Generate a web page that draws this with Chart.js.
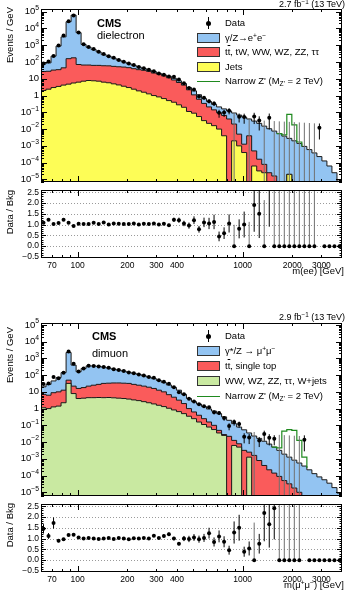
<!DOCTYPE html>
<html>
<head>
<meta charset="utf-8">
<title>CMS dilepton mass spectra</title>
<script src="https://cdn.jsdelivr.net/npm/chart.js@4.4.1/dist/chart.umd.min.js"></script>
<style>
  html, body { margin: 0; padding: 0; background: #fff; }
  #page { position: relative; width: 346px; height: 592px; overflow: hidden;
          font-family: "Liberation Sans", Arial, sans-serif; color: #000; }
  #page canvas { position: absolute; left: 0; }
  .ytitle { position: absolute; width: 120px; text-align: right; font-size: 9.5px; line-height: 1;
            transform-origin: 0 0; transform: rotate(-90deg); white-space: nowrap; }
  .xtitle { position: absolute; right: 2px; font-size: 9.5px; line-height: 1; white-space: nowrap; }
  .lumi { position: absolute; right: 1px; font-size: 9px; line-height: 1; white-space: nowrap; }
  .cms { position: absolute; font-size: 11px; font-weight: bold; line-height: 1; }
  .chan { position: absolute; font-size: 11px; line-height: 1; }
  .leg { position: absolute; left: 197px; width: 149px; font-size: 9.5px; }
  .row { position: absolute; left: 0; width: 149px; height: 10px; }
  .sw { position: absolute; left: 0; top: 0; width: 21px; height: 8px; border: 1px solid #333; }
  .mk { position: absolute; left: 11px; top: -1px; width: 1px; height: 12px; background: #000; }
  .mk::after { content: ''; position: absolute; left: -2px; top: 3.5px; width: 5px; height: 5px;
               border-radius: 50%; background: #000; }
  .zl { position: absolute; left: 0; top: 5px; width: 23px; height: 1px; background: #1f8a1f; }
  .lab { position: absolute; left: 28px; top: 0; line-height: 10px; white-space: nowrap; }
  sup { font-size: 70%; vertical-align: 0; position: relative; top: -0.45em; line-height: 0; }
  sub { font-size: 70%; vertical-align: 0; position: relative; top: 0.3em; line-height: 0; }
  .ov { text-decoration: overline; }
</style>
</head>
<body>
<div id="page">
  <canvas id="eeMain" width="346" height="186" style="top:0px"></canvas>
  <canvas id="eeRatio" width="346" height="100" style="top:186px"></canvas>
  <canvas id="mmMain" width="346" height="200" style="top:300px"></canvas>
  <canvas id="mmRatio" width="346" height="92" style="top:500px"></canvas>

  <!-- dielectron labels -->
  <div class="lumi" style="top:0px">2.7 fb<sup>−1</sup> (13 TeV)</div>
  <div class="cms" style="left:97px; top:18px">CMS</div>
  <div class="chan" style="left:97px; top:30px">dielectron</div>
  <div class="ytitle" style="left:5px; top:127px">Events / GeV</div>
  <div class="ytitle" style="left:5px; top:310px">Data / Bkg</div>
  <div class="xtitle" style="top:266px">m(ee) [GeV]</div>
  <div class="leg" style="top:0px">
    <div class="row" style="top:18px"><i class="mk"></i><span class="lab">Data</span></div>
    <div class="row" style="top:33px"><i class="sw" style="background:#93c4f2"></i><span class="lab">γ/Z→e<sup>+</sup>e<sup>−</sup></span></div>
    <div class="row" style="top:47px"><i class="sw" style="background:#fa5b5b"></i><span class="lab">t<span class="ov">t</span>, tW, WW, WZ, ZZ, ττ</span></div>
    <div class="row" style="top:62px"><i class="sw" style="background:#fdfd56"></i><span class="lab">Jets</span></div>
    <div class="row" style="top:76px"><i class="zl"></i><span class="lab">Narrow Z' (M<sub>Z'</sub> = 2 TeV)</span></div>
  </div>

  <!-- dimuon labels -->
  <div class="lumi" style="top:312.5px">2.9 fb<sup>−1</sup> (13 TeV)</div>
  <div class="cms" style="left:92px; top:331px">CMS</div>
  <div class="chan" style="left:92px; top:348px">dimuon</div>
  <div class="ytitle" style="left:5px; top:447px">Events / GeV</div>
  <div class="ytitle" style="left:5px; top:623px">Data / Bkg</div>
  <div class="xtitle" style="top:580px">m(μ<sup>+</sup>μ<sup>−</sup>) [GeV]</div>
  <div class="leg" style="top:0px">
    <div class="row" style="top:331px"><i class="mk"></i><span class="lab">Data</span></div>
    <div class="row" style="top:346px"><i class="sw" style="background:#93c4f2"></i><span class="lab">γ*/Z → μ<sup>+</sup>μ<sup>−</sup></span></div>
    <div class="row" style="top:361px"><i class="sw" style="background:#fa5b5b"></i><span class="lab">t<span class="ov">t</span>, single top</span></div>
    <div class="row" style="top:376px"><i class="sw" style="background:#c9e9a1"></i><span class="lab">WW, WZ, ZZ, ττ, W+jets</span></div>
    <div class="row" style="top:391px"><i class="zl"></i><span class="lab">Narrow Z' (M<sub>Z'</sub> = 2 TeV)</span></div>
  </div>
</div>

<script>
// bin edges in GeV (60 bins, 60 - 4000)
const massEdges = [60, 64.35, 69.02, 74.02, 79.38, 85.14, 91.31, 97.93, 105.0, 112.6,
  120.8, 129.6, 139.0, 149.0, 159.8, 171.4, 183.9, 197.2, 211.5, 226.8,
  243.3, 260.9, 279.8, 300.1, 321.8, 345.2, 370.2, 397.0, 425.8, 456.7,
  489.8, 525.3, 563.4, 604.2, 648.0, 695.0, 745.4, 799.4, 857.4, 919.6,
  986.2, 1058, 1134, 1217, 1305, 1400, 1501, 1610, 1727, 1852,
  1986, 2130, 2284, 2450, 2628, 2818, 3022, 3241, 3476, 3729, 4000];

const massTicks = [70, 100, 200, 300, 400, 1000, 2000, 3000];
const massMinor = [80, 90, 500, 600, 700, 800, 900];
const logDecades = [1e-5, 1e-4, 1e-3, 1e-2, 1e-1, 1, 10, 1e2, 1e3, 1e4, 1e5];
const ratioTicks = [-0.5, 0, 0.5, 1, 1.5, 2, 2.5];

// ---- dielectron (events / GeV), stacked tops ----
const eeBkgTotal = [76, 89, 224, 891, 3160, 25100, 63100, 5620, 1120, 759,
  550, 398, 275, 219, 170, 129, 100, 79, 63, 50,
  41, 33, 27, 21, 17, 14, 10.7, 7.6, 5.2, 3.0,
  1.9, 1.12, 0.66, 0.44, 0.30, 0.21, 0.16, 0.12, 0.091, 0.069,
  0.052, 0.040, 0.030, 0.022, 0.015, 0.0105, 0.0076, 0.0054, 0.0038, 0.0028,
  0.0020, 0.0014, 9.3e-4, 6.0e-4, 3.8e-4, 2.3e-4, 1.26e-4, 6.3e-5, 2.5e-5, 7.9e-6];
const eeNonDY = [27, 28, 33, 35, 45, 158, 178, 71, 66, 66,
  63, 63, 60, 59, 55, 52, 50, 46, 40, 35,
  32, 28, 22, 19, 15, 11.5, 8.5, 6.0, 4.2, 2.2,
  1.1, 0.6, 0.34, 0.21, 0.14, 0.095, 0.065, 0.040, 0.020, 0.0050,
  0.00126, 0.0040, 5.0e-4, 1.6e-4, 7.9e-5, 2.5e-5, 1.6e-5, 0, 0, 2.0e-5,
  0, 0, 0, 0, 0, 0, 0, 0, 0, 0];
const eeJets = [2.0, 2.4, 3.0, 3.5, 4.2, 4.8, 5.6, 6.3, 7.2, 7.9,
  7.6, 7.2, 6.3, 5.8, 5.0, 4.3, 3.6, 3.0, 2.4, 1.9,
  1.58, 1.26, 1.0, 0.83, 0.66, 0.50, 0.40, 0.28, 0.20, 0.112,
  0.089, 0.056, 0.032, 0.022, 0.016, 0.010, 0.004, 0, 0.002, 0.001,
  4.0e-4, 0, 6.3e-5, 3.2e-5, 2.5e-5, 0, 0, 0, 0, 2.0e-5,
  0, 0, 0, 0, 0, 0, 0, 0, 0, 0];
const eeSignal = [0, 0, 0, 0, 0, 0, 0, 0, 0, 0,
  0, 0, 0, 0, 0, 0, 0, 0, 0, 0,
  0, 0, 0, 0, 0, 0, 0, 0, 0, 0,
  0, 0, 0, 0, 0, 0, 0, 0, 0, 0,
  0, 0, 0, 0, 0, 0, 0, 0.0054, 0.0045, 0.075,
  0.018, 0.0017, 9.3e-4, 0, 0, 0, 0, 0, 0, 0];
const eeData = [82, 109, 231, 953, 3860, 27100, 58700, 5840, 1140, 782,
  594, 410, 303, 219, 179, 134, 102, 81, 66, 50,
  43, 34, 28, 21, 17.7, 13.6, 13.1, 9.1, 5.5, 2.85,
  2.3, 0.87, 0.73, 0.46, 0.34, 0.095, 0.096, 0.126, 0, 0.055,
  0.052, 0, 0.057, 0.033, 0, 0.047, 0, 0, 0, 0,
  0, 0, 0, 0, 0, 0.012, 0, 0, 0, 0];
const eeErr = [0, 0, 0, 0, 0, 0, 0, 0, 0, 0,
  0, 0, 0, 0, 0, 0, 0, 0, 0, 0,
  0.04, 0.04, 0.05, 0.05, 0.06, 0.07, 0.08, 0.1, 0.12, 0.15,
  0.15, 0.2, 0.2, 0.25, 0.3, 0.5, 0.45, 0.4, 0, 0.55,
  0.6, 0, 0.65, 0.75, 0, 0.8, 0, 0, 0, 0,
  0, 0, 0, 0, 0, 0.8, 0, 0, 0, 0];
const eeLimit = [0, 0, 0, 0, 0, 0, 0, 0, 0, 0,
  0, 0, 0, 0, 0, 0, 0, 0, 0, 0,
  0, 0, 0, 0, 0, 0, 0, 0, 0, 0,
  0, 0, 0, 0, 0, 0, 0, 0, 0.09, 0,
  0, 0.045, 0, 0, 0.032, 0, 0.03, 0.029, 0.028, 0.027,
  0.026, 0.025, 0.024, 0.023, 0.022, 0, 0, 0, 0, 0];
const eeRatio = [1.08, 1.22, 1.03, 1.07, 1.22, 1.08, 0.93, 1.04, 1.02, 1.03,
  1.08, 1.03, 1.1, 1.0, 1.05, 1.04, 1.02, 1.03, 1.05, 1.0,
  1.04, 1.02, 1.05, 1.0, 1.04, 0.97, 1.22, 1.2, 1.05, 0.95,
  1.2, 0.78, 1.1, 1.05, 1.12, 0.45, 0.6, 1.05, 0, 0.8,
  1.0, 0, 1.9, 1.5, 0, 4.5, 0, 0, 0, 0,
  0, 0, 0, 0, 0, 52, 0, 0, 0, 0];

// ---- dimuon ----
const mmBkgTotal = [20, 28, 45, 71, 141, 2240, 398, 158, 251, 355,
  355, 331, 302, 263, 229, 200, 174, 148, 129, 110,
  91, 76, 62, 48, 36, 26, 18.6, 12.6, 7.1, 4.0,
  2.6, 1.86, 1.32, 0.95, 0.71, 0.50, 0.32, 0.20, 0.126, 0.079,
  0.054, 0.035, 0.023, 0.0166, 0.0112, 0.0076, 0.0050, 0.0032, 0.0019, 0.00126,
  8.3e-4, 5.6e-4, 3.7e-4, 2.2e-4, 1.3e-4, 8.3e-5, 5.6e-5, 3.5e-5, 1.9e-5, 8.9e-6];
const mmNonDY = [7.1, 6.3, 8.9, 10, 12.6, 50, 22, 16, 18, 22,
  25, 28, 32, 33, 34, 34, 33, 32, 28, 25,
  22, 19, 16, 12.6, 10, 6.8, 4.8, 3.2, 2.0, 1.0,
  0.63, 0.40, 0.25, 0.158, 0.10, 0.050, 0.028, 0.022, 0.0126, 0.0079,
  0.0032, 0.0025, 0.0016, 7.9e-4, 4.0e-4, 2.2e-4, 1.4e-4, 8.9e-5, 5.0e-5, 3.2e-5,
  1.8e-5, 1.0e-5, 0, 0, 0, 0, 0, 0, 0, 0];
const mmDiboson = [1.12, 1.0, 1.26, 1.41, 2.24, 32, 7.9, 4.0, 4.2, 4.5,
  4.5, 4.6, 4.5, 4.6, 4.4, 4.2, 4.0, 3.7, 3.3, 3.0,
  2.6, 2.24, 1.9, 1.58, 1.32, 1.05, 0.83, 0.66, 0.50, 0.35,
  0.25, 0.158, 0.112, 0.079, 0.056, 0.035, 0.025, 0, 0.0063, 0.005,
  0, 0.00126, 0, 0, 0, 0, 0, 0, 0, 0,
  0, 0, 0, 0, 0, 0, 0, 0, 0, 0];
const mmSignal = [0, 0, 0, 0, 0, 0, 0, 0, 0, 0,
  0, 0, 0, 0, 0, 0, 0, 0, 0, 0,
  0, 0, 0, 0, 0, 0, 0, 0, 0, 0,
  0, 0, 0, 0, 0, 0, 0, 0, 0, 0,
  0, 0, 0, 0, 0, 0, 0.0050, 0.0045, 0.045, 0.056,
  0.05, 0.0126, 0.00126, 2.8e-4, 0, 0, 0, 0, 0, 0];
const mmData = [29, 31.6, 77, 64, 137, 2600, 470, 166, 251, 362,
  355, 324, 302, 271, 224, 204, 174, 144, 130, 110,
  94, 76, 70, 49, 40, 31, 18.6, 9.6, 7.1, 3.9,
  2.7, 1.8, 1.36, 1.19, 0.6, 0.55, 0.27, 0.092, 0.16, 0.119,
  0.021, 0.019, 0, 0.0126, 0.03, 0.018, 0.016, 0, 0, 0,
  0, 0, 0.014, 0, 0, 0, 0, 0, 0, 0];
const mmErr = [0.15, 0.12, 0.15, 0.08, 0.05, 0, 0, 0, 0, 0,
  0, 0, 0, 0, 0, 0, 0, 0, 0, 0,
  0.04, 0.04, 0.05, 0.05, 0.06, 0.07, 0.08, 0.1, 0.12, 0.15,
  0.15, 0.17, 0.18, 0.2, 0.25, 0.25, 0.3, 0.45, 0.4, 0.4,
  0.6, 0.6, 0, 0.6, 0.6, 0.65, 0.6, 0, 0, 0,
  0, 0, 0.8, 0, 0, 0, 0, 0, 0, 0];
const mmLimit = [0, 0, 0, 0, 0, 0, 0, 0, 0, 0,
  0, 0, 0, 0, 0, 0, 0, 0, 0, 0,
  0, 0, 0, 0, 0, 0, 0, 0, 0, 0,
  0, 0, 0, 0, 0, 0, 0, 0, 0, 0,
  0, 0, 0.04, 0, 0, 0, 0, 0.027, 0.026, 0.025,
  0.024, 0.023, 0, 0, 0, 0, 0, 0, 0, 0];
const mmRatio = [1.45, 1.12, 1.72, 0.9, 0.97, 1.16, 1.18, 1.05, 1.0, 1.02,
  1.0, 0.98, 1.0, 1.03, 0.98, 1.02, 1.0, 0.97, 1.01, 1.0,
  1.03, 1.0, 1.13, 1.02, 1.12, 1.2, 1.0, 0.76, 1.0, 0.98,
  1.05, 0.97, 1.03, 1.25, 0.84, 1.1, 0.85, 0.46, 1.28, 1.5,
  0.39, 0.54, 0, 0.76, 2.18, 1.66, 2.4, 0, 0, 0,
  0, 0, 38, 0, 0, 0, 0, 0, 0, 0];

const BLUE = '#93c4f2', RED = '#fa5b5b', YELLOW = '#fdfd56', GREEN = '#c9e9a1';
const EDGE = '#1a1a1a', ZPRIME = '#1f8a1f';
const FLOOR = 1e-9;   // stand-in for empty bins on the log axis (falls below the frame)
const FONT = '"Liberation Sans", Arial, sans-serif';

const binCenters = massEdges.slice(0, -1).map((lo, i) => Math.sqrt(lo * massEdges[i + 1]));

// tick lists for the frame
const xTickList = massTicks.concat(massMinor).map(v => [v, (v === 100 || v === 1000) ? 6 : 3]);
function logTickList(min, max) {
  const out = [];
  for (let e = -6; e <= 5; e++) {
    for (let k = 1; k <= 9; k++) {
      const v = k * Math.pow(10, e);
      if (v >= min && v <= max) out.push([v, k === 1 ? 6 : 3]);
    }
  }
  return out;
}
function ratioTickList(min, max) {
  const out = [];
  for (let i = -6; i <= 26; i++) {
    const v = i / 10;
    if (v >= min && v <= max) out.push([v, i % 5 === 0 ? 5 : 2.5]);
  }
  return out;
}

// frame, inward ticks, tick labels and ratio guide lines
const axisFrame = {
  id: 'axisFrame',
  beforeDatasetsDraw(chart, args, o) {
    if (!o.dotted) return;
    const { ctx, chartArea: a } = chart;
    const ys = chart.scales.y;
    ctx.save();
    ctx.strokeStyle = '#9a9a9a';
    ctx.lineWidth = 1;
    ctx.setLineDash([1, 2]);
    o.dotted.forEach(v => {
      const py = Math.round(ys.getPixelForValue(v)) + 0.5;
      ctx.beginPath();
      ctx.moveTo(a.left, py);
      ctx.lineTo(a.right, py);
      ctx.stroke();
    });
    ctx.restore();
  },
  afterDatasetsDraw(chart, args, o) {
    const { ctx, chartArea: a } = chart;
    const xs = chart.scales.x, ys = chart.scales.y;
    ctx.save();
    ctx.strokeStyle = '#000';
    ctx.lineWidth = 1;
    ctx.beginPath();
    o.xTicks.forEach(([v, len]) => {
      const px = Math.round(xs.getPixelForValue(v)) + 0.5;
      ctx.moveTo(px, a.bottom); ctx.lineTo(px, a.bottom - len);
      ctx.moveTo(px, a.top); ctx.lineTo(px, a.top + len);
    });
    o.yTicks.forEach(([v, len]) => {
      const py = Math.round(ys.getPixelForValue(v)) + 0.5;
      ctx.moveTo(a.left, py); ctx.lineTo(a.left + len, py);
      ctx.moveTo(a.right, py); ctx.lineTo(a.right - len, py);
    });
    ctx.stroke();
    ctx.strokeRect(a.left + 0.5, a.top + 0.5, a.right - a.left - 1, a.bottom - a.top - 1);

    ctx.fillStyle = '#000';
    ctx.textBaseline = 'middle';
    const right = a.left - 2;
    if (o.yLabels === 'log') {
      logDecades.forEach(v => {
        const e = Math.round(Math.log10(v));
        const py = ys.getPixelForValue(v);
        if (e === 0 || e === 1) {
          ctx.font = '9.5px ' + FONT;
          ctx.textAlign = 'right';
          ctx.fillText(e === 0 ? '1' : '10', right, py);
        } else {
          const exp = (e < 0 ? '−' : '') + Math.abs(e);
          ctx.font = '6.8px ' + FONT;
          const w = ctx.measureText(exp).width;
          ctx.textAlign = 'left';
          ctx.fillText(exp, right - w, py - 3.5);
          ctx.font = '9.5px ' + FONT;
          ctx.textAlign = 'right';
          ctx.fillText('10', right - w, py);
        }
      });
    } else {
      ctx.font = '8.5px ' + FONT;
      ctx.textAlign = 'right';
      ratioTicks.forEach(v => {
        ctx.fillText(v.toFixed(1).replace('-', '−'), right, ys.getPixelForValue(v));
      });
    }
    if (o.xLabels) {
      ctx.font = '8.5px ' + FONT;
      ctx.textAlign = 'center';
      ctx.textBaseline = 'top';
      massTicks.forEach(v => ctx.fillText(String(v), xs.getPixelForValue(v), a.bottom + 3));
    }
    ctx.restore();
  }
};

function stepPoints(vals) {
  const pts = vals.map((v, i) => ({ x: massEdges[i], y: v > 0 ? v : FLOOR }));
  pts.push({ x: massEdges[vals.length], y: pts[pts.length - 1].y });
  return pts;
}

function histSet(vals, color, order) {
  return { data: stepPoints(vals), stepped: true, fill: 'start', backgroundColor: color,
           borderColor: EDGE, borderWidth: 1, pointRadius: 0, order };
}

function segSet(segs, color, order) {
  const pts = [];
  segs.forEach(([x, lo, hi]) => pts.push({ x, y: lo }, { x, y: hi }, { x, y: null }));
  return { data: pts, borderColor: color, borderWidth: 1, pointRadius: 0, fill: false,
           spanGaps: false, order };
}

function baseOptions(pad, yScale, frame) {
  return {
    responsive: false,
    animation: false,
    events: [],
    layout: { padding: pad },
    scales: {
      x: { type: 'logarithmic', display: false, min: 60, max: 4000 },
      y: yScale
    },
    plugins: { legend: { display: false }, tooltip: { enabled: false }, axisFrame: frame }
  };
}

function mainChart(id, s) {
  const bars = [], limits = [];
  s.data.forEach((d, i) => {
    const x = binCenters[i];
    if (d > 0 && s.err[i] > 0) bars.push([x, d * (1 - s.err[i]), d * (1 + s.err[i])]);
    if (s.limit[i] > 0) limits.push([x, FLOOR, s.limit[i]]);
  });
  const signal = s.signal.map((v, i) => ({ x: massEdges[i], y: v > 0 ? v : null }));
  const points = s.data.map((d, i) => ({ x: binCenters[i], y: d > 0 ? d : null }));
  return new Chart(document.getElementById(id), {
    type: 'line',
    data: { datasets: [
      histSet(s.total, BLUE, 7),
      histSet(s.nonDY, RED, 6),
      histSet(s.lowest, s.lowColor, 5),
      { data: signal, stepped: true, fill: false, borderColor: ZPRIME, borderWidth: 1.2,
        pointRadius: 0, spanGaps: false, order: 4 },
      segSet(limits, '#707070', 3),
      segSet(bars, '#000', 2),
      { data: points, showLine: false, pointRadius: 2, pointBackgroundColor: '#000',
        pointBorderWidth: 0, order: 1 }
    ]},
    options: baseOptions(s.pad, { type: 'logarithmic', display: false, min: s.yMin, max: s.yMax },
      { xTicks: xTickList, yTicks: logTickList(s.yMin, s.yMax), yLabels: 'log' }),
    plugins: [axisFrame]
  });
}

function ratioChart(id, s) {
  const bars = [], limits = [];
  s.ratio.forEach((r, i) => {
    const x = binCenters[i];
    if (r > 0 && s.err[i] > 0) bars.push([x, r * (1 - s.err[i]), r * (1 + s.err[i])]);
    if (r === 0 && s.limit[i] > 0) limits.push([x, 0, s.limit[i] / s.total[i]]);
  });
  const points = s.ratio.map((r, i) => ({ x: binCenters[i], y: r }));
  return new Chart(document.getElementById(id), {
    type: 'line',
    data: { datasets: [
      segSet(limits, '#707070', 3),
      segSet(bars, '#000', 2),
      { data: points, showLine: false, pointRadius: 2, pointBackgroundColor: '#000',
        pointBorderWidth: 0, order: 1 }
    ]},
    options: baseOptions(s.pad, { type: 'linear', display: false, min: -0.55, max: 2.6 },
      { xTicks: xTickList, yTicks: ratioTickList(-0.55, 2.6), yLabels: 'ratio',
        xLabels: true, dotted: ratioTicks }),
    plugins: [axisFrame]
  });
}

mainChart('eeMain', {
  total: eeBkgTotal, nonDY: eeNonDY, lowest: eeJets, lowColor: YELLOW, signal: eeSignal,
  data: eeData, err: eeErr, limit: eeLimit,
  yMin: 7e-6, yMax: 1.45e5, pad: { top: 9, bottom: 3, left: 41, right: 1 }
});
ratioChart('eeRatio', {
  ratio: eeRatio, err: eeErr, limit: eeLimit, total: eeBkgTotal,
  pad: { top: 4, bottom: 28, left: 41, right: 1 }
});
mainChart('mmMain', {
  total: mmBkgTotal, nonDY: mmNonDY, lowest: mmDiboson, lowColor: GREEN, signal: mmSignal,
  data: mmData, err: mmErr, limit: mmLimit,
  yMin: 6e-6, yMax: 1.3e5, pad: { top: 23, bottom: 1, left: 41, right: 1 }
});
ratioChart('mmRatio', {
  ratio: mmRatio, err: mmErr, limit: mmLimit, total: mmBkgTotal,
  pad: { top: 2, bottom: 20, left: 41, right: 1 }
});
</script>
</body>
</html>
